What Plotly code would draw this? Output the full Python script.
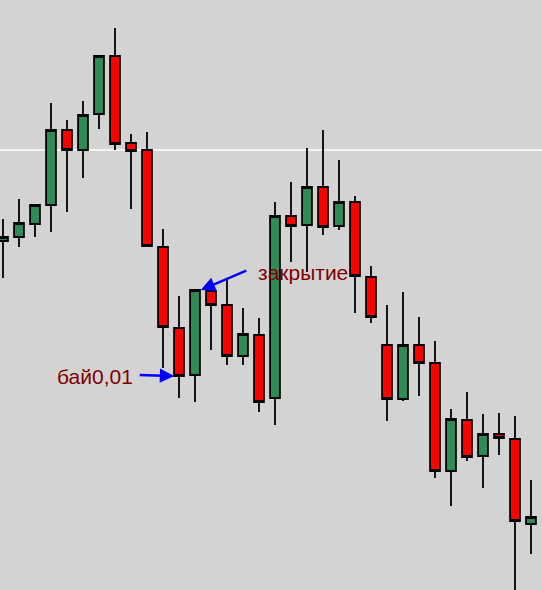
import plotly.graph_objects as go

# Price values (arbitrary points)
idx = list(range(34))
opens = [349, 353, 366, 385, 460, 440, 476, 534, 447, 440,
         343, 262, 215, 299, 285, 234, 255, 192, 374, 365,
         403, 364, 388, 313, 245, 191, 245, 227, 119, 170,
         134, 156, 151, 66]
highs = [371, 391, 386, 487, 470, 489, 535, 562, 456, 458,
         361, 294, 300, 305, 312, 282, 272, 388, 408, 442,
         460, 430, 394, 324, 285, 298, 273, 249, 181, 198,
         176, 177, 174, 110]
lows = [312, 343, 353, 358, 378, 412, 461, 440, 381, 344,
        222, 192, 188, 240, 225, 225, 178, 165, 328, 318,
        355, 360, 277, 267, 169, 189, 194, 112, 84, 129,
        102, 135, -2, 36]
closes = [353, 367, 385, 460, 440, 475, 534, 446, 439, 344,
          263, 214, 300, 285, 234, 256, 188, 374, 364, 403,
          363, 388, 314, 273, 191, 245, 227, 119, 171, 133,
          156, 152, 69, 73]
level = 440  # white horizontal level line

close_label = "закрытие"
buy_label = "бай0,01"
buy_bar = 11
close_bar = 12

fig = go.Figure()
fig.add_trace(go.Candlestick(
    x=idx, open=opens, high=highs, low=lows, close=closes,
    increasing=dict(fillcolor="#2E8B57", line=dict(color="black", width=1.8)),
    decreasing=dict(fillcolor="#FF0000", line=dict(color="black", width=1.8)),
    whiskerwidth=0,
    showlegend=False,
    hoverinfo="skip",
))

fig.add_shape(type="line", xref="paper", x0=0, x1=1, yref="y", y0=level, y1=level,
              line=dict(color="white", width=1.3), layer="below")

text_font = dict(family="Liberation Sans, Arial, sans-serif", size=21, color="#800000")

# arrow to the close of the green candle
fig.add_annotation(x=close_bar + 0.36, y=closes[close_bar], xref="x", yref="y",
                   text="", showarrow=True, ax=47, ay=-20,
                   arrowcolor="#0000FF", arrowwidth=2.5, arrowhead=2, arrowsize=1.15,
                   standoff=0, startstandoff=0)
fig.add_annotation(x=close_bar + 3.8, y=closes[close_bar] + 18, xref="x", yref="y",
                   text=close_label, showarrow=False, xanchor="left", yanchor="middle",
                   font=text_font)

# arrow to the close of the red candle
fig.add_annotation(x=buy_bar - 0.3, y=closes[buy_bar], xref="x", yref="y",
                   text="", showarrow=True, ax=-36, ay=-1,
                   arrowcolor="#0000FF", arrowwidth=2.5, arrowhead=2, arrowsize=1.15,
                   standoff=0, startstandoff=0)
fig.add_annotation(x=buy_bar - 2.78, y=closes[buy_bar], xref="x", yref="y",
                   text=buy_label, showarrow=False, xanchor="right", yanchor="middle",
                   font=text_font)

fig.update_layout(
    width=542, height=590,
    margin=dict(l=0, r=0, t=0, b=0),
    paper_bgcolor="#D3D3D3",
    plot_bgcolor="#D3D3D3",
    boxgap=0.12,
    xaxis=dict(range=[-0.1875, 33.6875], visible=False, showgrid=False,
               rangeslider=dict(visible=False), fixedrange=True),
    yaxis=dict(range=[0, 590], visible=False, showgrid=False, fixedrange=True),
)

fig.write_html(
    "out.html",
    config={"displayModeBar": False},
    post_script="document.body.style.margin='0';document.body.style.overflow='hidden';",
)
